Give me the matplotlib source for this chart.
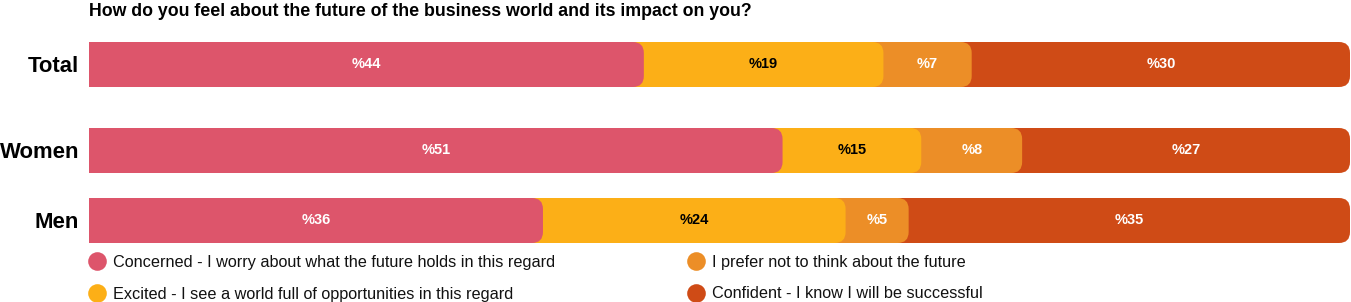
import matplotlib
matplotlib.use("Agg")
import matplotlib.pyplot as plt
from matplotlib.patches import FancyBboxPatch

# ---------------- data ----------------
categories = ["Total", "Women", "Men"]
series_names = [
    "Concerned - I worry about what the future holds in this regard",
    "Excited - I see a world full of opportunities in this regard",
    "I prefer not to think about the future",
    "Confident - I know I will be successful",
]
concerned = [44, 55, 36]
excited = [19, 11, 24]
prefer_not = [7, 8, 5]
confident = [30, 26, 35]
# value labels as printed on the bars
concerned_lbl = [44, 51, 36]
excited_lbl = [19, 15, 24]
prefer_not_lbl = [7, 8, 5]
confident_lbl = [30, 27, 35]
title = "How do you feel about the future of the business world and its impact on you?"

colors = ["#DD556B", "#FCAF17", "#EC8E27", "#CF4B16"]
label_colors = ["white", "black", "white", "white"]

# ---------------- layout ----------------
W, H = 1351, 302
fig = plt.figure(figsize=(W / 100, H / 100), dpi=100)
x_left, x_right = 89, 1350
ax = fig.add_axes([x_left / W, 0, (x_right - x_left) / W, 1])
ax.set_xlim(0, 100)
ax.set_ylim(H, 0)
ax.axis("off")

row_y = [64.5, 150.5, 220.5]   # pixel centres of rows
bar_h = 45
px_per_unit = (x_right - x_left) / 100.0
radius_px = 11
rs = radius_px / px_per_unit
aspect = px_per_unit  # y units (px) per x unit

font = "Liberation Sans"

series = [concerned, excited, prefer_not, confident]
series_lbl = [concerned_lbl, excited_lbl, prefer_not_lbl, confident_lbl]

for i, cat in enumerate(categories):
    y = row_y[i]
    vals = [s[i] for s in series]
    cums = []
    c = 0
    for v in vals:
        c += v
        cums.append(c)
    starts = [0] + cums[:-1]
    # draw from last to first so rounded right edges overlap the next segment
    for k in range(len(vals) - 1, -1, -1):
        x0 = -3
        p = FancyBboxPatch((x0, y - bar_h / 2), cums[k] - x0, bar_h,
                           boxstyle=f"round,pad=0,rounding_size={rs}",
                           mutation_aspect=aspect,
                           facecolor=colors[k], edgecolor="none")
        ax.add_patch(p)
    for k in range(len(vals)):
        xc = (starts[k] + cums[k]) / 2
        ax.text(xc, y - 2.5, f"%{series_lbl[k][i]}", ha="center", va="center_baseline",
                color=label_colors[k], fontsize=10.5, fontweight="bold", family=font)
    ax.text(-10 / px_per_unit, y - 0.5, cat, ha="right", va="center_baseline", fontsize=15.9,
            fontweight="bold", family=font, color="black")

ax.text(0, 9, title, ha="left", va="center_baseline", fontsize=12.8, fontweight="bold",
        family=font, color="black")

# legend
leg_pos = [(96.5, 261), (96.5, 292.5), (696, 261), (696, 292.5)]
for k, name in enumerate(series_names):
    cx, cy = leg_pos[k]
    xd = (cx - x_left) / px_per_unit
    ax.scatter([xd], [cy], s=180, color=colors[k], clip_on=False, zorder=3,
               linewidths=0)
    ax.text(xd + 16 / px_per_unit, cy, name, ha="left", va="center_baseline",
            fontsize=11.7, family=font, color="#111111")

fig.savefig("out.png", dpi=100)
